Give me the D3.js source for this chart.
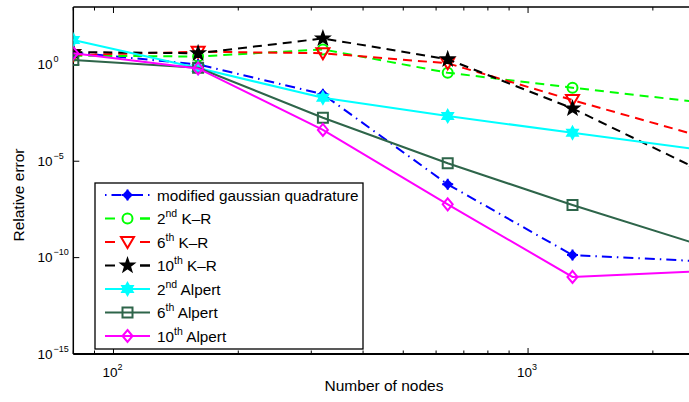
<!DOCTYPE html>
<html>
<head>
<meta charset="utf-8">
<script src="https://cdn.jsdelivr.net/npm/d3@7"></script>
<style>
  body { margin: 0; background: #fff; }
  svg { display: block; font-family: "Liberation Sans", Arial, sans-serif; }
</style>
</head>
<body>
<svg id="chart" width="689" height="402"></svg>
<script>
// number of nodes on the x axis
var nodes = [80, 160, 320, 640, 1280, 2560];

// relative error of each method
var gaussQuad  = [4.4, 1.05, 0.03, 6.3e-7, 1.35e-10, 6.6e-11];
var kr2        = [3.0, 2.7, 6.3, 0.39, 0.065, 0.0118];
var kr6        = [3.2, 4.8, 4.0, 1.2, 0.0148, 2.2e-4];
var kr10       = [4.6, 4.0, 23.4, 1.95, 0.0055, 4.0e-6];
var alpert2    = [19.5, 0.68, 0.0195, 0.0022, 3.0e-4, 4.1e-5];
var alpert6    = [1.8, 0.71, 1.8e-3, 7.8e-6, 5.4e-8, 5.0e-10];
var alpert10   = [4.0, 0.65, 4.2e-4, 5.8e-8, 1.0e-11, 1.95e-11];

// legend text: [main, superscript, rest]
var seriesNames = [
    ['modified gaussian quadrature', '', ''],
    ['2', 'nd', ' K\u2013R'],
    ['6', 'th', ' K\u2013R'],
    ['10', 'th', ' K\u2013R'],
    ['2', 'nd', ' Alpert'],
    ['6', 'th', ' Alpert'],
    ['10', 'th', ' Alpert']
];

var xTickExps = [2, 3];
var yTickExps = [-15, -10, -5, 0];

var series = [
    { values: gaussQuad, color: '#0000ff', dash: '10,5,1.5,5', marker: 'plusdiamond' },
    { values: kr2, color: '#00ff00', dash: '9,6', marker: 'circle' },
    { values: kr6, color: '#ff0000', dash: '9,6', marker: 'triangle' },
    { values: kr10, color: '#000000', dash: '9,6', marker: 'star' },
    { values: alpert2, color: '#00ffff', dash: null, marker: 'hexagram' },
    { values: alpert6, color: '#2e654a', dash: null, marker: 'square' },
    { values: alpert10, color: '#ff00ff', dash: null, marker: 'diamond' }
];

var plotLeft = 73.3, plotTop = 7, plotBottom = 354, rangeRight = 697.3;

var x = d3.scaleLog().domain([80, 2560]).range([plotLeft, rangeRight]);
var y = d3.scaleLog().domain([1e-15, 1e3]).range([plotBottom, plotTop]);

var svg = d3.select('#chart');

svg.append('defs').append('clipPath').attr('id', 'plotclip')
    .append('rect')
    .attr('x', plotLeft).attr('y', plotTop)
    .attr('width', rangeRight - plotLeft).attr('height', plotBottom - plotTop);

var markerPath = function (type) {
    var p = '';
    if (type === 'circle') {
        return 'M5,0A5,5 0 1,1 -5,0A5,5 0 1,1 5,0Z';
    }
    if (type === 'square') {
        return 'M-5,-5L5,-5L5,5L-5,5Z';
    }
    if (type === 'diamond') {
        return 'M0,-6L5,0L0,6L-5,0Z';
    }
    if (type === 'triangle') {
        return 'M-6.5,-5L6.5,-5L0,6Z';
    }
    if (type === 'star' || type === 'hexagram') {
        var n = type === 'star' ? 5 : 6,
            ro = type === 'star' ? 7.2 : 6.5,
            ri = type === 'star' ? 2.9 : 3.7;
        for (var i = 0; i < n * 2; i++) {
            var r = i % 2 === 0 ? ro : ri,
                a = -Math.PI / 2 + i * Math.PI / n;
            p += (i === 0 ? 'M' : 'L') + (r * Math.cos(a)).toFixed(2) + ',' + (r * Math.sin(a)).toFixed(2);
        }
        return p + 'Z';
    }
    if (type === 'plusdiamond') {
        return 'M0,-4L4,0L0,4L-4,0Z';
    }
    return p;
};

var drawMarker = function (g, s, cx, cy) {
    var m = g.append('g').attr('transform', 'translate(' + cx + ',' + cy + ')');
    var filled = s.marker === 'star' || s.marker === 'hexagram' || s.marker === 'plusdiamond';
    m.append('path')
        .attr('d', markerPath(s.marker))
        .attr('fill', filled ? s.color : 'none')
        .attr('stroke', s.color)
        .attr('stroke-width', s.marker === 'hexagram' || s.marker === 'star' ? 1.5 : 2)
        .attr('stroke-linejoin', 'miter');
    if (s.marker === 'plusdiamond') {
        m.append('path')
            .attr('d', 'M-5.5,0L5.5,0M0,-5.5L0,5.5')
            .attr('stroke', s.color)
            .attr('stroke-width', 2);
    }
};

// axes box (right side falls outside the picture)
svg.append('line').attr('x1', plotLeft).attr('x2', 689).attr('y1', plotTop).attr('y2', plotTop)
    .attr('stroke', '#000').attr('stroke-width', 1.5);
svg.append('line').attr('x1', plotLeft).attr('x2', plotLeft).attr('y1', plotTop).attr('y2', plotBottom)
    .attr('stroke', '#000').attr('stroke-width', 1.5);
svg.append('line').attr('x1', plotLeft).attr('x2', 689).attr('y1', plotBottom).attr('y2', plotBottom)
    .attr('stroke', '#000').attr('stroke-width', 2);

// x ticks, major and minor, on bottom and top, pointing inward
var xMinor = [];
[10, 100, 1000].forEach(function (d) {
    for (var k = 1; k < 10; k++) {
        var v = d * k;
        if (v >= 80 && v <= 2560) xMinor.push(v);
    }
});
var ticks = svg.append('g').attr('stroke', '#000').attr('stroke-width', 1);
xMinor.forEach(function (v) {
    var major = xTickExps.indexOf(Math.round(Math.log10(v) * 1000) / 1000) >= 0;
    var len = major ? 6 : 3.5;
    ticks.append('line').attr('x1', x(v)).attr('x2', x(v)).attr('y1', plotBottom).attr('y2', plotBottom - len);
    ticks.append('line').attr('x1', x(v)).attr('x2', x(v)).attr('y1', plotTop).attr('y2', plotTop + len);
});
yTickExps.forEach(function (e) {
    ticks.append('line').attr('x1', plotLeft).attr('x2', plotLeft + 6)
        .attr('y1', y(Math.pow(10, e))).attr('y2', y(Math.pow(10, e)));
});

// tick labels
xTickExps.forEach(function (e) {
    var t = svg.append('text')
        .attr('x', x(Math.pow(10, e)) - 1)
        .attr('y', 377)
        .attr('text-anchor', 'middle')
        .attr('font-size', 13.5)
        .attr('fill', '#000');
    t.append('tspan').text('10');
    t.append('tspan').attr('dy', -7).attr('font-size', 9).text(e);
});
yTickExps.forEach(function (e) {
    var t = svg.append('text')
        .attr('x', 37.5)
        .attr('y', y(Math.pow(10, e)) + 4.5)
        .attr('font-size', 13.5)
        .attr('fill', '#000');
    t.append('tspan').text('10');
    t.append('tspan').attr('dy', -7).attr('dx', 1).attr('font-size', 9)
        .text(e < 0 ? '\u2212' + Math.abs(e) : e);
});

// axis titles
svg.append('text')
    .attr('x', 384).attr('y', 391)
    .attr('text-anchor', 'middle')
    .attr('font-size', 15.5)
    .text('Number of nodes');
svg.append('text')
    .attr('transform', 'translate(24,195) rotate(-90)')
    .attr('text-anchor', 'middle')
    .attr('font-size', 15.5)
    .text('Relative error');

// series
var plot = svg.append('g').attr('clip-path', 'url(#plotclip)');
var line = d3.line()
    .x(function (d, i) { return x(nodes[i]); })
    .y(function (d) { return y(d); });

series.forEach(function (s) {
    plot.append('path')
        .attr('d', line(s.values))
        .attr('fill', 'none')
        .attr('stroke', s.color)
        .attr('stroke-width', 2)
        .attr('stroke-dasharray', s.dash);
    s.values.forEach(function (v, i) {
        drawMarker(plot, s, x(nodes[i]), y(v));
    });
});

// legend
var legend = svg.append('g');
legend.append('rect')
    .attr('x', 95).attr('y', 183)
    .attr('width', 268).attr('height', 166)
    .attr('fill', '#fff')
    .attr('stroke', '#000')
    .attr('stroke-width', 1.3);

series.forEach(function (s, i) {
    var cy = 195 + i * 23.5;
    legend.append('line')
        .attr('x1', 105).attr('x2', 150)
        .attr('y1', cy).attr('y2', cy)
        .attr('stroke', s.color)
        .attr('stroke-width', 2)
        .attr('stroke-dasharray', s.dash === '9,6' ? '10,25' : s.dash === null ? null : '1.5,5,10,5');
    if (s.dash === '9,6') {
        legend.append('line')
            .attr('x1', 140).attr('x2', 150)
            .attr('y1', cy).attr('y2', cy)
            .attr('stroke', s.color).attr('stroke-width', 2);
    }
    drawMarker(legend, s, 127.5, cy);
    var t = legend.append('text')
        .attr('x', 157).attr('y', cy + 5.5)
        .attr('font-size', 15.3)
        .attr('fill', '#000');
    var nm = seriesNames[i];
    t.append('tspan').text(nm[0]);
    if (nm[1]) {
        t.append('tspan').attr('dy', -7).attr('font-size', 10.5).text(nm[1]);
        t.append('tspan').attr('dy', 7).text(nm[2]);
    }
});
</script>
</body>
</html>
